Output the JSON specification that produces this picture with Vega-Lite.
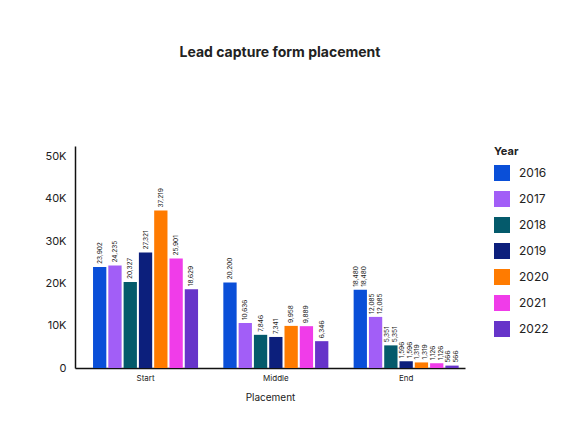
{
  "$schema": "https://vega.github.io/schema/vega-lite/v6.json",
  "autosize": "none",
  "padding": {"left": 75, "top": 146, "right": 105, "bottom": 63},
  "width": 390,
  "height": 222,
  "background": "white",
  "config": {
    "font": "Inter",
    "view": {"stroke": null}
  },
  "title": {
    "text": "Lead capture form placement",
    "fontSize": 14,
    "fontWeight": "bold",
    "color": "#222222",
    "anchor": "middle",
    "frame": "group",
    "dx": 10,
    "offset": 86
  },
  "data": {
    "values": [
      {"Placement": "Start", "Year": "2016", "Count": 23902},
      {"Placement": "Start", "Year": "2017", "Count": 24235},
      {"Placement": "Start", "Year": "2018", "Count": 20327},
      {"Placement": "Start", "Year": "2019", "Count": 27321},
      {"Placement": "Start", "Year": "2020", "Count": 37219},
      {"Placement": "Start", "Year": "2021", "Count": 25901},
      {"Placement": "Start", "Year": "2022", "Count": 18629},
      {"Placement": "Middle", "Year": "2016", "Count": 20200},
      {"Placement": "Middle", "Year": "2017", "Count": 10636},
      {"Placement": "Middle", "Year": "2018", "Count": 7846},
      {"Placement": "Middle", "Year": "2019", "Count": 7341},
      {"Placement": "Middle", "Year": "2020", "Count": 9958},
      {"Placement": "Middle", "Year": "2021", "Count": 9889},
      {"Placement": "Middle", "Year": "2022", "Count": 6346},
      {"Placement": "End", "Year": "2016", "Count": 18480},
      {"Placement": "End", "Year": "2017", "Count": 12085},
      {"Placement": "End", "Year": "2018", "Count": 5351},
      {"Placement": "End", "Year": "2019", "Count": 1596},
      {"Placement": "End", "Year": "2020", "Count": 1319},
      {"Placement": "End", "Year": "2021", "Count": 1126},
      {"Placement": "End", "Year": "2022", "Count": 566}
    ]
  },
  "encoding": {
    "x": {
      "field": "Placement",
      "type": "nominal",
      "sort": ["Start", "Middle", "End"],
      "title": "Placement",
      "scale": {"paddingInner": 0.194, "paddingOuter": 0.0935, "align": 0.74},
      "axis": {
        "labelAngle": 0,
        "labelFontSize": 8,
        "labelColor": "#222222",
        "labelPadding": 6,
        "ticks": false,
        "domainColor": "#111111",
        "domainWidth": 1.5,
        "titleFontSize": 10,
        "titleFontWeight": "normal",
        "titleColor": "#222222",
        "titlePadding": 10
      }
    },
    "xOffset": {
      "field": "Year",
      "type": "nominal",
      "scale": {"paddingInner": 0.13}
    },
    "y": {
      "field": "Count",
      "type": "quantitative",
      "title": null,
      "scale": {"domain": [0, 52500], "nice": false},
      "axis": {
        "values": [0, 10000, 20000, 30000, 40000, 50000],
        "labelExpr": "datum.value == 0 ? '0' : datum.value / 1000 + 'K'",
        "labelFontSize": 11,
        "labelColor": "#222222",
        "labelPadding": 9,
        "ticks": false,
        "grid": false,
        "domainColor": "#111111",
        "domainWidth": 1.5
      }
    }
  },
  "layer": [
    {
      "mark": {"type": "bar"},
      "encoding": {
        "color": {
          "field": "Year",
          "type": "nominal",
          "scale": {
            "domain": ["2016", "2017", "2018", "2019", "2020", "2021", "2022"],
            "range": ["#0a4fd8", "#a25ef7", "#045a6b", "#0c1f7c", "#ff7b00", "#f03ce9", "#6634c9"]
          },
          "legend": {
            "orient": "right",
            "offset": 29,
            "title": "Year",
            "titleFontSize": 11,
            "titleFontWeight": "bold",
            "titleColor": "#222222",
            "titlePadding": 8,
            "symbolType": "square",
            "symbolSize": 256,
            "symbolStrokeWidth": 0,
            "symbolOpacity": 1,
            "labelFontSize": 12,
            "labelColor": "#222222",
            "labelOffset": 9,
            "rowPadding": 10
          }
        }
      }
    },
    {
      "transform": [{"filter": "datum.Placement != 'End'"}],
      "mark": {"type": "text", "angle": -90, "align": "left", "baseline": "middle", "dx": 3, "fontSize": 6.5, "color": "#222222"},
      "encoding": {"text": {"field": "Count", "type": "quantitative", "format": ",d"}}
    },
    {
      "transform": [{"filter": "datum.Placement == 'End'"}],
      "mark": {"type": "text", "angle": -90, "align": "left", "baseline": "middle", "dx": 3, "dy": -4, "fontSize": 6.5, "color": "#222222"},
      "encoding": {"text": {"field": "Count", "type": "quantitative", "format": ",d"}}
    },
    {
      "transform": [{"filter": "datum.Placement == 'End'"}],
      "mark": {"type": "text", "angle": -90, "align": "left", "baseline": "middle", "dx": 3, "dy": 4, "fontSize": 6.5, "color": "#222222"},
      "encoding": {"text": {"field": "Count", "type": "quantitative", "format": ",d"}}
    }
  ]
}
